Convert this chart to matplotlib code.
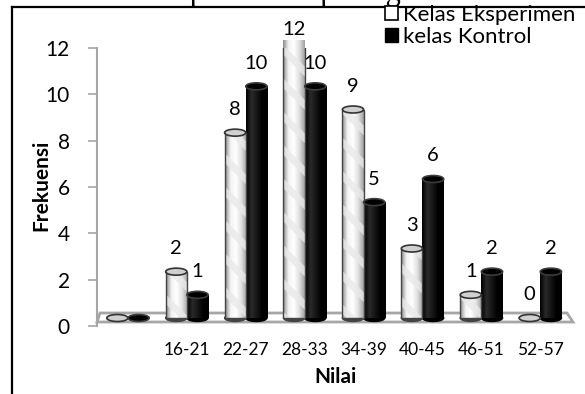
import numpy as np
import matplotlib
matplotlib.use('Agg')
import matplotlib.pyplot as plt
from matplotlib.patches import Ellipse, Rectangle, Polygon, Patch
from matplotlib.colors import LinearSegmentedColormap

# data
categories = ['', '16-21', '22-27', '28-33', '34-39', '40-45', '46-51', '52-57']
eksperimen = [0, 2, 8, 12, 9, 3, 1, 0]
kontrol = [0, 1, 10, 10, 5, 6, 2, 2]
yticks = [0, 2, 4, 6, 8, 10, 12]
series_names = ['Kelas Eksperimen', 'kelas Kontrol']
caption = 'Distribusi frekuensi nilai kedua kelas dapat dilihat pada gambar berikut.'

plt.rcParams['font.family'] = ['Lato', 'DejaVu Sans']
plt.rcParams['hatch.linewidth'] = 5

W, H = 585, 394
fig = plt.figure(figsize=(W / 100, H / 100), dpi=100)

# background layer in pixel coordinates: frame, floor
bg = fig.add_axes([0, 0, 1, 1], zorder=0)
bg.set_xlim(0, W)
bg.set_ylim(H, 0)
bg.axis('off')
bg.plot([12, W], [7, 7], color='black', lw=1.6)
bg.plot([12, 12], [7, H], color='black', lw=1.6)
bg.add_patch(Polygon([(100, 313), (567, 313), (573, 322), (97, 322)],
                     closed=True, facecolor='white', edgecolor='#a6a6a6', lw=2))

# caption line of the document, cut off at the top edge (only descenders show)
cap_font = dict(family='Liberation Serif', fontsize=22)
renderer = fig.canvas.get_renderer()
prefix = fig.text(0, 0, caption[:caption.index('dapat') + 2], **cap_font)
pre_w = prefix.get_window_extent(renderer).width
prefix.remove()
fig.text((190 - pre_w) / W, 1.0, caption, va='baseline', ha='left', **cap_font)

# main chart
left, right, y0px, y12px = 97, 580, 326, 48
ax = fig.add_axes([left / W, (H - y0px) / H, (right - left) / W, (y0px - y12px) / H], zorder=1)
ax.patch.set_visible(False)
xmin, xmax = -0.526, 7.674
ymin, ymax = 0, 12

px_per_unit = (y0px - y12px) / 12.0
base = 8 / px_per_unit          # bars sit on the floor, a bit above zero
ell_h = 7 / px_per_unit
bw = 0.36
off = 0.18

cm_white = LinearSegmentedColormap.from_list('w', ['#8c8c8c', '#f4f4f4', '#ffffff', '#e0e0e0', '#a0a0a0'])
cm_black = LinearSegmentedColormap.from_list('b', ['#000000', '#2a2a2a', '#151515', '#000000', '#000000'])
grad = np.linspace(0, 1, 64).reshape(1, -1)


def cylinder(xc, v, kind):
    x0 = xc - bw / 2
    if kind == 'w':
        cm, top_fc, top_ec, edge = cm_white, '#d0d0d0', '#333333', '#444444'
    else:
        cm, top_fc, top_ec, edge = cm_black, '#000000', '#3c3c3c', '#000000'
    if v == 0:
        ax.add_patch(Ellipse((xc, base), bw, ell_h, facecolor=top_fc, edgecolor=top_ec, lw=1.2, zorder=3))
        return
    ax.add_patch(Ellipse((xc, base), bw, ell_h, facecolor=edge, edgecolor=edge, lw=1, zorder=2))
    rect = Rectangle((x0, base), bw, v, facecolor='none', edgecolor='none')
    ax.add_patch(rect)
    im = ax.imshow(grad, extent=[x0, x0 + bw, base, base + v], aspect='auto', cmap=cm, zorder=2.5,
                   interpolation='bilinear')
    im.set_clip_path(rect)
    if kind == 'w':
        ax.add_patch(Rectangle((x0, base), bw, v, facecolor='none', edgecolor='#e9e9e9', hatch='\\', lw=0,
                               alpha=0.8, zorder=2.6))
        ax.add_patch(Rectangle((x0, base), bw, v, facecolor='none', edgecolor=edge, lw=1, zorder=2.7))
    ax.add_patch(Ellipse((xc, base + v), bw, ell_h, facecolor=top_fc, edgecolor=top_ec, lw=1.2, zorder=3))


for i, cat in enumerate(categories):
    for v, kind, dx in [(eksperimen[i], 'w', -off), (kontrol[i], 'b', off)]:
        xc = i + dx
        cylinder(xc, v, kind)
        if cat:
            ly = min(base + v + 1.0, 12.8)
            ax.text(xc, ly, str(v), ha='center', va='center', fontsize=14.5, zorder=4)

ax.set_xlim(xmin, xmax)
ax.set_ylim(ymin, ymax)
ax.set_xticks(range(len(categories)))
ax.set_xticklabels(categories, fontsize=12.5)
ax.set_yticks(yticks)
ax.set_yticklabels([str(t) for t in yticks], fontsize=15)
ax.tick_params(axis='x', length=0, pad=11.5)
ax.tick_params(axis='y', length=6.5, width=1.2, color='#a6a6a6', pad=13)
for s in ['top', 'right', 'bottom']:
    ax.spines[s].set_visible(False)
ax.spines['left'].set_color('#a6a6a6')
ax.spines['left'].set_linewidth(1.5)

ax.set_xlabel('Nilai', fontsize=15, fontweight='bold')
ax.xaxis.set_label_coords((335 - left) / (right - left), (y0px - 377) / (y0px - y12px))
ax.xaxis.label.set_va('center')
ax.set_ylabel('Frekuensi', fontsize=15, fontweight='bold')
ax.yaxis.set_label_coords((41 - left) / (right - left), (y0px - 185) / (y0px - y12px))
ax.yaxis.label.set_va('center')

handles = [Patch(facecolor='white', edgecolor='black', lw=1.2), Patch(facecolor='black', edgecolor='black')]
fig.legend(handles, series_names, loc='upper left', bbox_to_anchor=(385 / W, 1 - 5 / H),
           frameon=False, fontsize=16, handlelength=0.6, handleheight=0.6, handletextpad=0.2,
           labelspacing=0.1, borderpad=0, borderaxespad=0)

fig.savefig('out.png', dpi=100)
